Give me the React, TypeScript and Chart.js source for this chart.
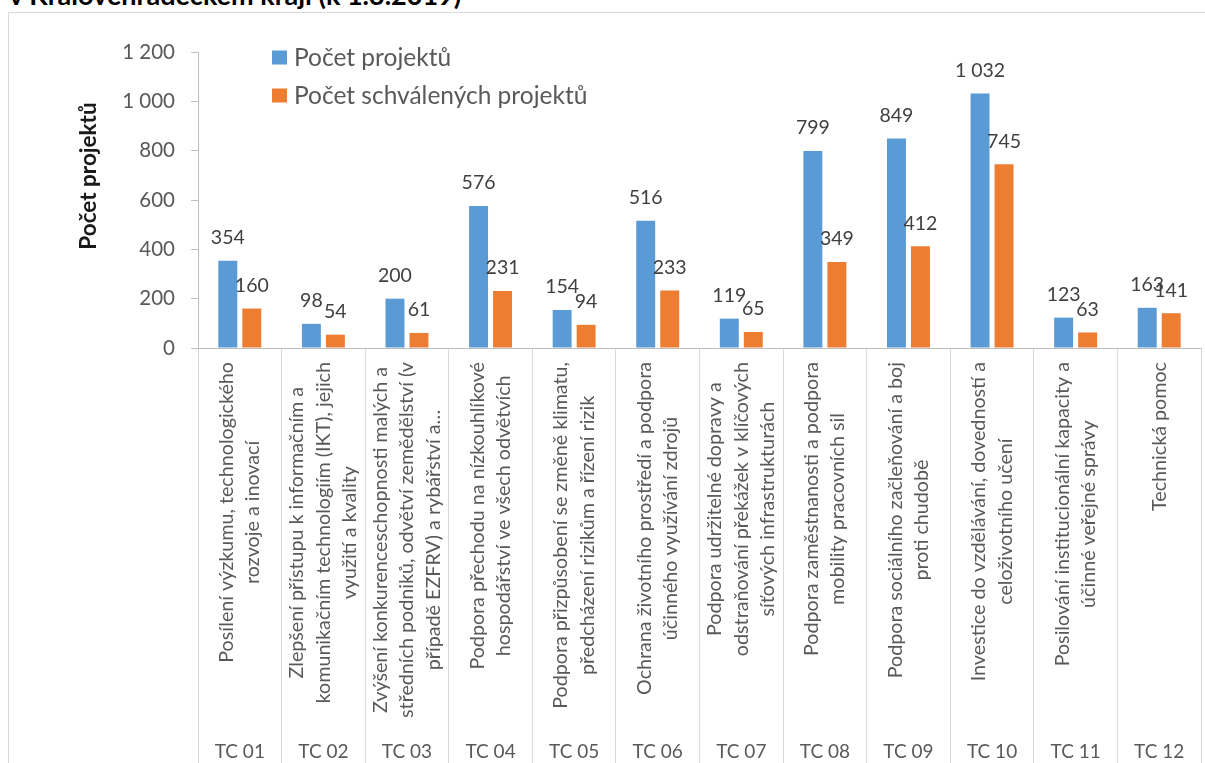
import React, { useEffect, useRef } from "react";
import { Chart, registerables } from "chart.js";

Chart.register(...registerables);

const categories = ["TC 01", "TC 02", "TC 03", "TC 04", "TC 05", "TC 06", "TC 07", "TC 08", "TC 09", "TC 10", "TC 11", "TC 12"];
const categoryNames: string[][] = [
  ["Posílení výzkumu, technologického", "rozvoje a inovací"],
  ["Zlepšení přístupu k informačním a", "komunikačním technologiím (IKT), jejich", "využití a kvality"],
  ["Zvýšení konkurenceschopnosti malých a", "středních podniků, odvětví zemědělství (v", "případě EZFRV) a rybářství a…"],
  ["Podpora přechodu na nízkouhlíkové", "hospodářství ve všech odvětvích"],
  ["Podpora přizpůsobení se změně klimatu,", "předcházení rizikům a řízení rizik"],
  ["Ochrana životního prostředí a podpora", "účinného využívání zdrojů"],
  ["Podpora udržitelné dopravy a", "odstraňování překážek v klíčových", "síťových infrastrukturách"],
  ["Podpora zaměstnanosti a podpora", "mobility pracovních sil"],
  ["Podpora sociálního začleňování a boj", "proti chudobě"],
  ["Investice do vzdělávání, dovedností a", "celoživotního učení"],
  ["Posilování institucionální kapacity a", "účinné veřejné správy"],
  ["Technická pomoc"],
];
const projects = [354, 98, 200, 576, 154, 516, 119, 799, 849, 1032, 123, 163];
const approved = [160, 54, 61, 231, 94, 233, 65, 349, 412, 745, 63, 141];
const seriesNames = ["Počet projektů", "Počet schválených projektů"];
const yTitle = "Počet projektů";
const chartTitle = "v Královéhradeckém kraji (k 1.3.2019)";
const yMin = 0;
const yMax = 1200;
const yStep = 200;

const BLUE = "#5B9BD5";
const ORANGE = "#ED7D31";
const FONT = "Lato, 'Noto Sans', sans-serif";

const fmt = (n: number) => String(n).replace(/\B(?=(\d{3})+(?!\d))/g, " ");

const customPlugin = {
  id: "custom",
  afterDraw(chart: any) {
    const ctx = chart.ctx as CanvasRenderingContext2D;
    const xs = chart.scales.x;
    const area = chart.chartArea;
    ctx.save();

    // y-axis title
    ctx.save();
    ctx.translate(89, 176);
    ctx.rotate(-Math.PI / 2);
    ctx.font = `bold 22.5px ${FONT}`;
    ctx.fillStyle = "#1a1a1a";
    ctx.textAlign = "center";
    ctx.textBaseline = "middle";
    ctx.fillText(yTitle, 0, 0);
    ctx.restore();

    // legend
    const colors = [BLUE, ORANGE];
    const legendRows = [57.5, 95.5];
    ctx.font = `24.5px ${FONT}`;
    ctx.textAlign = "left";
    ctx.textBaseline = "middle";
    seriesNames.forEach((name, i) => {
      ctx.fillStyle = colors[i];
      ctx.fillRect(272, legendRows[i] - 7, 15, 14);
      ctx.fillStyle = "#595959";
      ctx.fillText(name, 294, legendRows[i] + 1);
    });

    // data labels
    ctx.font = `19.5px ${FONT}`;
    ctx.fillStyle = "#404040";
    ctx.textAlign = "center";
    ctx.textBaseline = "middle";
    chart.data.datasets.forEach((ds: any, di: number) => {
      const meta = chart.getDatasetMeta(di);
      meta.data.forEach((el: any, i: number) => {
        ctx.fillText(fmt(ds.data[i]), el.x, el.y - 23);
      });
    });

    // category labels (rotated, multi-line)
    ctx.font = `19.7px ${FONT}`;
    ctx.fillStyle = "#595959";
    const lineH = 26.5;
    categoryNames.forEach((lines, i) => {
      const cx = xs.getPixelForValue(i);
      const w = Math.max(...lines.map((l) => ctx.measureText(l).width));
      ctx.save();
      ctx.translate(cx, area.bottom + 14);
      ctx.rotate(-Math.PI / 2);
      ctx.textAlign = "center";
      ctx.textBaseline = "middle";
      lines.forEach((l, j) => {
        ctx.fillText(l, -w / 2, (j - (lines.length - 1) / 2) * lineH);
      });
      ctx.restore();
    });

    // second level: TC codes
    ctx.font = `19px ${FONT}`;
    ctx.textAlign = "center";
    ctx.textBaseline = "middle";
    categories.forEach((c, i) => {
      ctx.fillText(c, xs.getPixelForValue(i), 752);
    });

    ctx.restore();
  },
};

export default function App() {
  const ref = useRef<HTMLCanvasElement | null>(null);

  useEffect(() => {
    if (!ref.current) return;
    const chart = new Chart(ref.current, {
      type: "bar",
      data: {
        labels: categories,
        datasets: [
          { label: seriesNames[0], data: projects, backgroundColor: BLUE, categoryPercentage: 0.574, barPercentage: 0.79 },
          { label: seriesNames[1], data: approved, backgroundColor: ORANGE, categoryPercentage: 0.574, barPercentage: 0.79 },
        ],
      },
      options: {
        animation: false,
        responsive: false,
        maintainAspectRatio: false,
        layout: { padding: { left: 8, right: 4, top: 52, bottom: 0 } },
        plugins: {
          legend: { display: false },
          tooltip: { enabled: false },
          title: { display: false },
        },
        scales: {
          x: {
            grid: { offset: true, drawOnChartArea: false, drawTicks: true, tickLength: 415, color: "#d9d9d9", lineWidth: 1 },
            border: { display: true, color: "#bfbfbf" },
            ticks: { display: false },
            afterFit: (s: any) => {
              s.height = 415;
            },
          },
          y: {
            min: yMin,
            max: yMax,
            ticks: {
              stepSize: yStep,
              callback: (v: any) => fmt(Number(v)),
              font: { family: FONT, size: 20.5 },
              color: "#595959",
              padding: 16,
            },
            grid: { drawOnChartArea: false, tickLength: 7, color: "#bfbfbf" },
            border: { display: true, color: "#bfbfbf" },
            afterFit: (s: any) => {
              s.width = 190;
            },
          },
        },
      },
      plugins: [customPlugin],
    });
    return () => chart.destroy();
  }, []);

  return (
    <div style={{ position: "fixed", left: 0, top: 0, width: 1205, height: 763, overflow: "hidden", background: "#fff" }}>
      <div
        style={{
          position: "absolute",
          left: 9,
          top: -19,
          font: `bold 27px ${FONT}`,
          lineHeight: "27px",
          whiteSpace: "nowrap",
          color: "#000",
        }}
      >
        {chartTitle}
      </div>
      <div
        style={{
          position: "absolute",
          left: 8,
          top: 12,
          width: 1400,
          height: 1200,
          border: "1px solid #d9d9d9",
          boxSizing: "border-box",
        }}
      />
      <canvas ref={ref} width={1205} height={763} style={{ position: "absolute", left: 0, top: 0, display: "block" }} />
    </div>
  );
}
